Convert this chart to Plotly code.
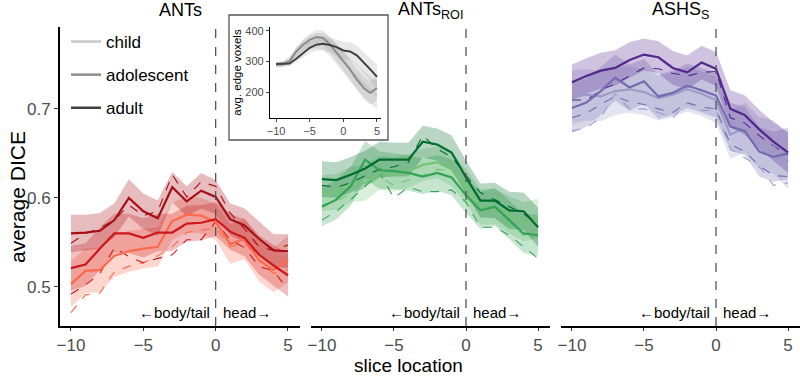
import plotly.graph_objects as go

slices = list(range(-10, 6))
x_ticks = [-10, -5, 0, 5]
x_ticktext = ["\u221210", "\u22125", "0", "5"]
y_ticks = [0.5, 0.6, 0.7]
inset_yticks = [200, 300, 400]

groups = ["child", "adolescent", "adult"]

# ---- ANTs ----
ants_mean = {
    "adult": [0.560, 0.561, 0.563, 0.575, 0.600, 0.585, 0.577, 0.612, 0.596, 0.608, 0.601, 0.576, 0.569, 0.554, 0.541, 0.540],
    "adolescent": [0.521, 0.525, 0.543, 0.560, 0.560, 0.555, 0.561, 0.561, 0.571, 0.572, 0.576, 0.562, 0.555, 0.536, 0.524, 0.513],
    "child": [0.503, 0.518, 0.519, 0.535, 0.540, 0.543, 0.545, 0.574, 0.581, 0.580, 0.573, 0.548, 0.554, 0.530, 0.519, 0.531],
}
ants_dash = {
    "adult": [0.549, 0.560, 0.566, 0.575, 0.592, 0.580, 0.585, 0.626, 0.601, 0.618, 0.613, 0.583, 0.565, 0.545, 0.541, 0.547],
    "adolescent": [0.492, 0.502, 0.515, 0.544, 0.534, 0.527, 0.532, 0.536, 0.553, 0.553, 0.573, 0.553, 0.544, 0.523, 0.518, 0.497],
    "child": [0.471, 0.491, 0.493, 0.517, 0.523, 0.527, 0.535, 0.545, 0.561, 0.564, 0.566, 0.545, 0.550, 0.530, 0.515, 0.519],
}
ants_se = {
    "adult": [0.021, 0.020, 0.020, 0.019, 0.021, 0.020, 0.020, 0.017, 0.017, 0.020, 0.019, 0.018, 0.019, 0.019, 0.018, 0.019],
    "adolescent": [0.025, 0.024, 0.024, 0.022, 0.022, 0.022, 0.021, 0.021, 0.020, 0.020, 0.019, 0.020, 0.021, 0.022, 0.023, 0.024],
    "child": [0.026, 0.025, 0.025, 0.024, 0.023, 0.022, 0.022, 0.021, 0.020, 0.020, 0.020, 0.022, 0.023, 0.024, 0.025, 0.026],
}

# ---- ANTs ROI ----
roi_mean = {
    "adult": [0.621, 0.620, 0.626, 0.633, 0.643, 0.643, 0.643, 0.663, 0.660, 0.651, 0.623, 0.597, 0.597, 0.586, 0.585, 0.567],
    "adolescent": [0.590, 0.598, 0.613, 0.643, 0.631, 0.630, 0.628, 0.624, 0.628, 0.623, 0.603, 0.586, 0.590, 0.575, 0.560, 0.558],
    "child": [0.605, 0.607, 0.615, 0.617, 0.628, 0.626, 0.630, 0.637, 0.640, 0.632, 0.613, 0.590, 0.590, 0.581, 0.573, 0.577],
}
roi_dash = {
    "adult": [0.614, 0.612, 0.617, 0.625, 0.632, 0.635, 0.640, 0.670, 0.655, 0.646, 0.625, 0.606, 0.598, 0.590, 0.582, 0.570],
    "adolescent": [0.575, 0.585, 0.598, 0.613, 0.628, 0.600, 0.612, 0.607, 0.607, 0.609, 0.595, 0.567, 0.567, 0.558, 0.545, 0.532],
    "child": [0.592, 0.596, 0.605, 0.612, 0.624, 0.614, 0.620, 0.625, 0.632, 0.630, 0.612, 0.590, 0.582, 0.572, 0.558, 0.563],
}
roi_se = {
    "adult": [0.020, 0.020, 0.020, 0.020, 0.020, 0.019, 0.019, 0.018, 0.018, 0.019, 0.019, 0.019, 0.020, 0.021, 0.021, 0.022],
    "adolescent": [0.022, 0.022, 0.022, 0.021, 0.021, 0.020, 0.020, 0.020, 0.020, 0.020, 0.020, 0.021, 0.021, 0.022, 0.022, 0.023],
    "child": [0.020, 0.020, 0.020, 0.020, 0.019, 0.019, 0.019, 0.018, 0.018, 0.019, 0.019, 0.020, 0.020, 0.021, 0.022, 0.022],
}

# ---- ASHS S ----
ashs_mean = {
    "adult": [0.730, 0.737, 0.743, 0.746, 0.755, 0.761, 0.758, 0.746, 0.741, 0.752, 0.745, 0.700, 0.693, 0.677, 0.663, 0.651],
    "adolescent": [0.701, 0.707, 0.720, 0.735, 0.724, 0.731, 0.714, 0.718, 0.726, 0.721, 0.715, 0.680, 0.675, 0.652, 0.646, 0.650],
    "child": [0.713, 0.716, 0.714, 0.720, 0.722, 0.719, 0.712, 0.716, 0.722, 0.717, 0.710, 0.671, 0.679, 0.662, 0.657, 0.641],
}
ashs_dash = {
    "adult": [0.710, 0.710, 0.721, 0.728, 0.737, 0.746, 0.745, 0.740, 0.737, 0.741, 0.742, 0.690, 0.684, 0.670, 0.658, 0.648],
    "adolescent": [0.690, 0.695, 0.705, 0.714, 0.708, 0.705, 0.700, 0.696, 0.707, 0.702, 0.700, 0.660, 0.652, 0.636, 0.625, 0.624],
    "child": [0.675, 0.679, 0.690, 0.717, 0.700, 0.700, 0.696, 0.690, 0.707, 0.698, 0.699, 0.655, 0.645, 0.635, 0.614, 0.617],
}
ashs_se = {
    "adult": [0.020, 0.020, 0.020, 0.020, 0.020, 0.018, 0.018, 0.019, 0.019, 0.019, 0.019, 0.021, 0.022, 0.022, 0.022, 0.023],
    "adolescent": [0.028, 0.027, 0.027, 0.026, 0.026, 0.025, 0.025, 0.025, 0.025, 0.025, 0.025, 0.027, 0.027, 0.028, 0.028, 0.029],
    "child": [0.030, 0.029, 0.028, 0.027, 0.026, 0.026, 0.025, 0.025, 0.025, 0.025, 0.026, 0.027, 0.028, 0.029, 0.030, 0.031],
}

# ---- inset: avg. edge voxels ----
edge_mean = {
    "adult": [292, 292, 293, 309, 328, 345, 355, 358, 354, 347, 336, 333, 320, 298, 274, 250],
    "adolescent": [290, 291, 301, 333, 355, 371, 380, 377, 356, 328, 301, 274, 241, 214, 197, 213],
    "child": [288, 291, 305, 330, 350, 362, 368, 365, 347, 325, 300, 272, 250, 226, 206, 190],
}
edge_se = {
    "adult": [8, 8, 9, 12, 15, 18, 20, 22, 24, 26, 28, 30, 32, 34, 36, 38],
    "adolescent": [8, 8, 10, 14, 17, 20, 22, 24, 26, 28, 30, 32, 34, 36, 38, 40],
    "child": [8, 9, 11, 15, 19, 22, 25, 28, 30, 33, 36, 38, 40, 42, 44, 46],
}

panels = [
    ("ANTs", ants_mean, ants_dash, ants_se,
     {"child": "#fb6a4a", "adolescent": "#cb181d", "adult": "#a50f15"}),
    ("ANTs<sub>ROI</sub>", roi_mean, roi_dash, roi_se,
     {"child": "#74c476", "adolescent": "#31a354", "adult": "#006d2c"}),
    ("ASHS<sub>S</sub>", ashs_mean, ashs_dash, ashs_se,
     {"child": "#9e9ac8", "adolescent": "#756bb1", "adult": "#54278f"}),
]
grey_cols = {"child": "#c8c8c8", "adolescent": "#8c8c8c", "adult": "#404040"}


def rgba(hexc, a):
    h = hexc.lstrip("#")
    return "rgba(%d,%d,%d,%.3f)" % (int(h[0:2], 16), int(h[2:4], 16), int(h[4:6], 16), a)


fig = go.Figure()

xnames = ["x", "x2", "x3"]
for (title, means, dashes, ses, cols), xn in zip(panels, xnames):
    for g in groups:
        up = [m + s for m, s in zip(means[g], ses[g])]
        lo = [m - s for m, s in zip(means[g], ses[g])]
        fig.add_trace(go.Scatter(
            x=slices + slices[::-1], y=up + lo[::-1], fill="toself",
            fillcolor=rgba(cols[g], 0.28), line=dict(width=0),
            hoverinfo="skip", showlegend=False, xaxis=xn, yaxis="y"))
    for g in groups:
        fig.add_trace(go.Scatter(
            x=slices, y=dashes[g], mode="lines",
            line=dict(color=cols[g], width=1.1, dash="dash"),
            showlegend=False, xaxis=xn, yaxis="y"))
    for g in groups:
        fig.add_trace(go.Scatter(
            x=slices, y=means[g], mode="lines",
            line=dict(color=cols[g], width=2.2),
            showlegend=False, xaxis=xn, yaxis="y"))

# inset
for g in groups:
    up = [m + s for m, s in zip(edge_mean[g], edge_se[g])]
    lo = [m - s for m, s in zip(edge_mean[g], edge_se[g])]
    fig.add_trace(go.Scatter(
        x=slices + slices[::-1], y=up + lo[::-1], fill="toself",
        fillcolor="rgba(150,150,150,0.22)", line=dict(width=0),
        hoverinfo="skip", showlegend=False, xaxis="x4", yaxis="y2"))
for g in groups:
    fig.add_trace(go.Scatter(
        x=slices, y=edge_mean[g], mode="lines",
        line=dict(color=grey_cols[g], width=2),
        showlegend=False, xaxis="x4", yaxis="y2"))

# legend entries
for g in groups:
    fig.add_trace(go.Scatter(
        x=[None], y=[None], mode="lines", name=g, legendgroup=g,
        line=dict(color=grey_cols[g], width=2.5), xaxis="x", yaxis="y"))

L, R, T, B = 60, 0, 27, 50
W, H = 800, 376
pw = W - L - R
ph = H - T - B


def px_x(p):
    return (p - L) / pw


def px_y(p):
    return (H - B - p) / ph


tickfont = dict(family="Liberation Sans, Arial, sans-serif", size=17, color="#4d4d4d")
xcommon = dict(range=[-10.76, 5.83], tickvals=x_ticks, ticktext=x_ticktext,
               showline=True, linecolor="black", linewidth=2, ticks="outside",
               ticklen=3, tickcolor="#333", tickwidth=1, showgrid=False,
               zeroline=False, tickfont=tickfont, anchor="y", automargin=False)

doms = [[px_x(60), px_x(300)], [px_x(311), px_x(550)], [px_x(561), px_x(800)]]
small_font = dict(family="Liberation Sans, Arial, sans-serif", size=11, color="#4d4d4d")

layout = dict(
    template="none",
    width=W, height=H, margin=dict(l=L, r=R, t=T, b=B, autoexpand=False),
    plot_bgcolor="white", paper_bgcolor="white",
    font=dict(family="Liberation Sans, Arial, sans-serif", color="black"),
    xaxis=dict(domain=doms[0], **xcommon),
    xaxis2=dict(domain=doms[1], **xcommon),
    xaxis3=dict(domain=doms[2], **xcommon),
    yaxis=dict(domain=[0, 1], range=[0.456, 0.792], tickvals=y_ticks,
               showline=True, linecolor="black", linewidth=2, ticks="outside",
               ticklen=4, tickcolor="#333", showgrid=False, zeroline=False,
               tickfont=tickfont, anchor="x", automargin=False),
    xaxis4=dict(domain=[px_x(270), px_x(381)], range=[-10.9, 5.6], anchor="y2",
                tickvals=x_ticks, ticktext=x_ticktext, showline=True,
                linecolor="black", linewidth=1.2, ticks="outside", ticklen=3,
                showgrid=False, zeroline=False, automargin=False,
                tickfont=small_font),
    yaxis2=dict(domain=[px_y(118), 1.0], range=[114.8, 413], anchor="x4",
                tickvals=inset_yticks, showline=True, linecolor="black",
                linewidth=1.2, ticks="outside", ticklen=3, showgrid=False,
                zeroline=False, automargin=False, tickfont=small_font,
                title=dict(text="avg. edge voxels", standoff=1,
                           font=dict(size=11.5, color="black"))),
    showlegend=True,
    legend=dict(x=px_x(66), y=px_y(24), xanchor="left", yanchor="top",
                bgcolor="rgba(0,0,0,0)", font=dict(size=17, color="black"),
                traceorder="grouped", tracegroupgap=8, itemwidth=30),
)
fig.update_layout(**layout)

shapes = []
# inset frame
shapes.append(dict(type="rect", xref="paper", yref="paper",
                   x0=px_x(229), x1=px_x(388), y0=px_y(140), y1=px_y(15),
                   line=dict(color="#555", width=1.3), fillcolor="white", layer="below"))
for xn in xnames:
    shapes.append(dict(type="line", xref=xn, yref="paper", x0=0, x1=0, y0=0, y1=1,
                       line=dict(color="#555", width=1.3, dash="dash")))
fig.update_layout(shapes=shapes)

ann = []
centers = [180, 430, 680]
for (title, *_), c in zip(panels, centers):
    ann.append(dict(text=title, xref="paper", yref="paper", x=px_x(c), y=px_y(10),
                    showarrow=False, font=dict(size=18, color="black"),
                    xanchor="center", yanchor="middle"))
for xn in xnames:
    ann.append(dict(text="\u2190body/tail", xref=xn, yref="paper", x=0, y=px_y(312),
                    xanchor="right", yanchor="middle", xshift=-4, showarrow=False,
                    font=dict(size=15, color="black")))
    ann.append(dict(text="head\u2192", xref=xn, yref="paper", x=0, y=px_y(312),
                    xanchor="left", yanchor="middle", xshift=5, showarrow=False,
                    font=dict(size=15, color="black")))
ann.append(dict(text="slice location", xref="paper", yref="paper", x=px_x(408),
                y=px_y(365.5), xanchor="center", yanchor="middle", showarrow=False,
                font=dict(size=19, color="black")))
ann.append(dict(text="average DICE", xref="paper", yref="paper", x=px_x(17),
                y=px_y(197), xanchor="center", yanchor="middle", showarrow=False,
                textangle=-90, font=dict(size=21, color="black")))
fig.update_layout(annotations=ann)

fig.write_html("out.html", config={"displayModeBar": False},
               post_script="document.body.style.margin='0px';")
